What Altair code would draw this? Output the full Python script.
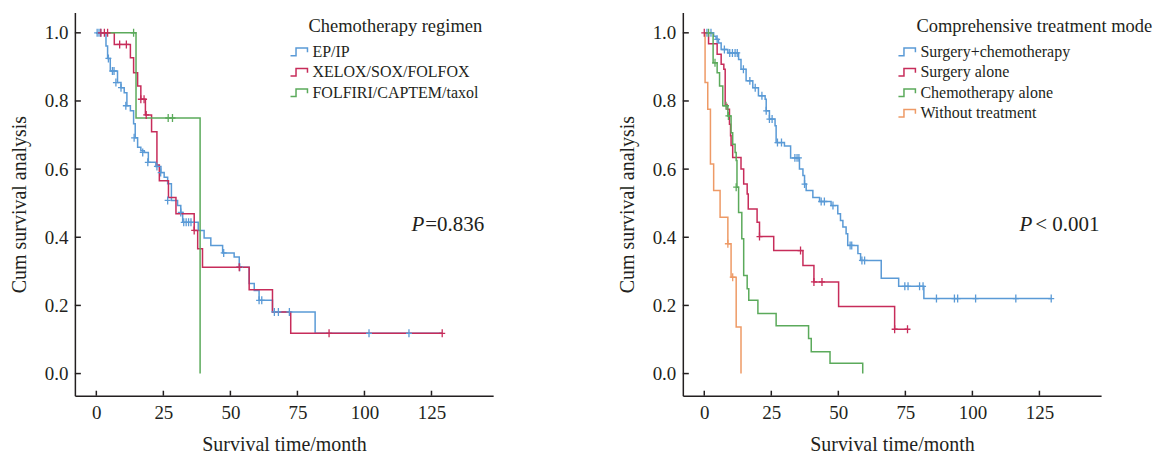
import altair as alt
import pandas as pd

FONT = "Liberation Serif"
INK = "#231f20"

# ---------------- Left panel: Chemotherapy regimen ----------------
left_series = ["EP/IP", "XELOX/SOX/FOLFOX", "FOLFIRI/CAPTEM/taxol"]
left_colors = ["#5A9AD6", "#C72C5A", "#5BAA5B"]

epip_t = [0, 3.6, 4.2, 5.2, 7.9, 9.2, 10.4, 11.4, 12.7, 13.9, 14.5, 15.4, 16.6, 17.9, 19.4,
          22.2, 24.1, 25.3, 26.6, 28.0, 30.3, 31.5, 32.2, 38.0, 40.2, 42.7, 47.1, 51.4, 53.3,
          57.0, 58.9, 60.7, 65.7, 81.6, 129.0]
epip_s = [1.0, 0.961, 0.925, 0.888, 0.854, 0.839, 0.824, 0.786, 0.771, 0.733, 0.692, 0.664, 0.654,
          0.649, 0.620, 0.608, 0.590, 0.576, 0.557, 0.508, 0.493, 0.473, 0.444, 0.420, 0.398, 0.376,
          0.354, 0.342, 0.312, 0.264, 0.244, 0.215, 0.181, 0.118, 0.118]
epip_ct = [0.3, 1.0, 1.6, 4.5, 6.0, 6.6, 7.3, 9.2, 11.0, 14.1, 17.3, 19.2, 22.6, 24.0, 26.6, 31.5,
           32.6, 33.5, 34.4, 35.3, 47.5, 53.5, 60.7, 61.7, 66.4, 67.9, 72.0, 101.7, 116.6]
epip_cs = [1.0, 1.0, 1.0, 0.925, 0.888, 0.888, 0.854, 0.839, 0.786, 0.692, 0.649, 0.620, 0.608,
           0.590, 0.508, 0.473, 0.444, 0.444, 0.444, 0.444, 0.354, 0.312, 0.215, 0.215, 0.181,
           0.181, 0.181, 0.118, 0.118]

xelox_t = [0, 6.7, 12.7, 13.9, 15.4, 16.6, 18.3, 20.6, 22.6, 23.5, 26.9, 29.7, 36.5, 37.8, 39.6,
           57.0, 65.7, 72.5, 129.0]
xelox_s = [1.0, 0.966, 0.927, 0.883, 0.844, 0.805, 0.759, 0.710, 0.612, 0.566, 0.517, 0.469, 0.420,
           0.366, 0.312, 0.246, 0.181, 0.118, 0.118]
xelox_ct = [1.7, 3.0, 4.2, 8.7, 11.2, 16.6, 17.8, 18.6, 36.5, 53.3, 86.8, 129.0]
xelox_cs = [1.0, 1.0, 1.0, 0.966, 0.966, 0.805, 0.805, 0.759, 0.420, 0.312, 0.118, 0.118]

folfiri_t = [0, 14.8, 38.7]
folfiri_s = [1.0, 0.75, 0.0]
folfiri_ct = [13.9, 26.8, 28.4]
folfiri_cs = [1.0, 0.75, 0.75]

# ---------------- Right panel: Comprehensive treatment mode ----------------
right_series = ["Surgery+chemotherapy", "Surgery alone", "Chemotherapy alone", "Without treatment"]
right_colors = ["#5A9AD6", "#C72C5A", "#5BAA5B", "#EE9A66"]

sc_t = [0, 3.5, 4.4, 5.3, 6.3, 8.8, 12.8, 13.7, 15.6, 18.1, 20.2, 22.7, 23.1, 24.3, 26.4, 26.8,
        29.9, 32.2, 35.5, 36.8, 37.4, 38.0, 40.5, 43.0, 47.3, 49.8, 50.8, 51.7, 52.9, 53.5, 57.3,
        58.3, 66.0, 72.5, 81.9, 129.4]
sc_s = [1.0, 0.99, 0.981, 0.97, 0.951, 0.941, 0.922, 0.893, 0.859, 0.839, 0.815, 0.805, 0.771,
        0.747, 0.727, 0.678, 0.668, 0.633, 0.600, 0.581, 0.556, 0.537, 0.517, 0.505, 0.493, 0.469,
        0.449, 0.430, 0.410, 0.376, 0.352, 0.332, 0.280, 0.256, 0.220, 0.220]
sc_ct = [1.0, 2.5, 4.8, 7.5, 9.5, 10.5, 11.5, 12.3, 14.6, 17.0, 19.0, 21.5, 23.1, 24.3, 25.3, 27.3,
         28.8, 33.8, 34.6, 35.3, 37.4, 43.6, 44.8, 48.0, 54.4, 55.0, 58.8, 59.8, 74.8, 76.0, 80.3,
         81.6, 86.6, 93.3, 94.5, 101.2, 116.2, 129.4]
sc_cs = [1.0, 1.0, 0.981, 0.951, 0.941, 0.941, 0.941, 0.941, 0.893, 0.859, 0.839, 0.815, 0.771,
         0.747, 0.747, 0.678, 0.678, 0.633, 0.633, 0.633, 0.556, 0.505, 0.505, 0.493, 0.376, 0.376,
         0.332, 0.332, 0.256, 0.256, 0.256, 0.256, 0.220, 0.220, 0.220, 0.220, 0.220, 0.220]

sa_t = [0, 1.6, 4.8, 6.3, 7.3, 7.8, 8.5, 9.4, 9.8, 10.0, 10.6, 13.7, 14.7, 16.0, 16.4, 19.7, 20.6,
        25.9, 36.8, 40.9, 50.1, 71.0, 75.8]
sa_s = [1.0, 0.968, 0.937, 0.908, 0.893, 0.790, 0.776, 0.732, 0.698, 0.669, 0.634, 0.600, 0.556,
        0.527, 0.483, 0.444, 0.402, 0.361, 0.317, 0.269, 0.197, 0.130, 0.130]
sa_ct = [0.0, 20.6, 35.9, 40.9, 43.9, 71.0, 75.8]
sa_cs = [1.0, 0.402, 0.361, 0.269, 0.269, 0.130, 0.130]

ca_t = [0, 3.3, 4.8, 5.7, 6.9, 8.8, 10.0, 10.6, 11.5, 11.9, 12.2, 12.8, 14.0, 14.7, 16.0, 16.6,
        20.0, 26.8, 38.9, 39.9, 46.9, 59.1]
ca_s = [1.0, 0.912, 0.883, 0.844, 0.786, 0.756, 0.707, 0.673, 0.649, 0.625, 0.547, 0.473, 0.396,
        0.288, 0.249, 0.215, 0.176, 0.140, 0.103, 0.064, 0.030, 0.0]
ca_ct = [1.6, 4.0, 8.1, 9.0, 11.9]
ca_cs = [1.0, 0.912, 0.786, 0.756, 0.547]

wt_t = [0, 0.3, 1.3, 2.3, 3.5, 5.9, 8.8, 10.0, 11.9, 13.7]
wt_s = [1.0, 0.854, 0.776, 0.615, 0.537, 0.459, 0.381, 0.283, 0.137, 0.0]
wt_ct = [8.8, 10.6]
wt_cs = [0.381, 0.283]

x_ticks = [0, 25, 50, 75, 100, 125]
y_ticks = [0.0, 0.2, 0.4, 0.6, 0.8, 1.0]

W, H = 419, 384
STEP_ICON = "M-1,0.45H-0.35V-0.45H1V0.05"
CROSS = "M0,-1V1M-0.75,0H0.75"


def frame(names, ts, ss):
    rows = []
    for n, t, s in zip(names, ts, ss):
        for a, b in zip(t, s):
            rows.append({"series": n, "t": a, "s": b})
    return pd.DataFrame(rows)


def panel(series, colors, lines, cens, legend_title, p_text, p_rest):
    xs = alt.Scale(domain=[-8, 148], nice=False, zero=False)
    ys = alt.Scale(domain=[-0.065, 1.06], nice=False, zero=False)
    cs = alt.Scale(domain=series, range=colors)
    x_axis = alt.Axis(values=x_ticks, title="Survival time/month", ticks=False, tickSize=0,
                      labelPadding=8, titleY=55, titleBaseline="alphabetic")
    y_axis = alt.Axis(values=y_ticks, format=".1f", title="Cum survival analysis", ticks=False,
                      tickSize=0, labelPadding=7, titleX=-55, titleY=H / 2,
                      titleAngle=270, titleAlign="center", titleBaseline="middle")
    legend = alt.Legend(orient="none", legendX=215, legendY=30, title=None,
                        symbolType=STEP_ICON, symbolSize=289, symbolStrokeWidth=1.5,
                        symbolFillColor="transparent", labelFont=FONT, labelFontSize=16,
                        labelColor=INK, rowPadding=2.5, padding=0, labelOffset=4,
                        labelLimit=0)
    line = alt.Chart(lines).mark_line(interpolate="step-after", strokeWidth=1.5).encode(
        x=alt.X("t:Q", scale=xs, axis=x_axis),
        y=alt.Y("s:Q", scale=ys, axis=y_axis),
        color=alt.Color("series:N", scale=cs, sort=series, legend=legend),
    )
    marks = alt.Chart(cens).mark_point(shape=CROSS, filled=False, size=64, strokeWidth=1.3,
                                       opacity=1).encode(
        x=alt.X("t:Q", scale=xs),
        y=alt.Y("s:Q", scale=ys),
        color=alt.Color("series:N", scale=cs, sort=series, legend=None),
    )
    xt = alt.Chart(pd.DataFrame({"t": x_ticks})).mark_rule(color=INK, strokeWidth=1.5).encode(
        x=alt.X("t:Q", scale=xs), y=alt.value(H), y2=alt.value(H - 5))
    yt = alt.Chart(pd.DataFrame({"s": y_ticks})).mark_rule(color=INK, strokeWidth=1.5).encode(
        y=alt.Y("s:Q", scale=ys), x=alt.value(0), x2=alt.value(6))
    lt = alt.Chart(pd.DataFrame({"label": [legend_title]})).mark_text(
        font=FONT, fontSize=18.5, color=INK, align="left", baseline="middle").encode(
        text="label:N", x=alt.value(234), y=alt.value(14))
    pp = alt.Chart(pd.DataFrame({"label": ["P"]})).mark_text(
        font=FONT, fontSize=21, fontStyle="italic", color=INK, align="right",
        baseline="middle").encode(text="label:N", x=alt.value(350), y=alt.value(213))
    pr = alt.Chart(pd.DataFrame({"label": [p_rest]})).mark_text(
        font=FONT, fontSize=21, color=INK, align="left", baseline="middle").encode(
        text="label:N", x=alt.value(p_text), y=alt.value(213))
    return alt.layer(line, marks, xt, yt, lt, pp, pr).properties(width=W, height=H)


left_lines = frame(left_series, [epip_t, xelox_t, folfiri_t], [epip_s, xelox_s, folfiri_s])
left_cens = frame(left_series, [epip_ct, xelox_ct, folfiri_ct], [epip_cs, xelox_cs, folfiri_cs])
right_lines = frame(right_series, [sc_t, sa_t, ca_t, wt_t], [sc_s, sa_s, ca_s, wt_s])
right_cens = frame(right_series, [sc_ct, sa_ct, ca_ct, wt_ct], [sc_cs, sa_cs, ca_cs, wt_cs])

left = panel(left_series, left_colors, left_lines, left_cens, "Chemotherapy regimen", 351, "=0.836")
right = panel(right_series, right_colors, right_lines, right_cens, "Comprehensive treatment mode",
              353, "< 0.001")

chart = alt.hconcat(left, right, spacing=125).resolve_scale(color="independent").properties(
    padding={"left": 2, "top": 4, "right": 0, "bottom": 0}, background="white"
).configure_view(stroke=None).configure_axis(
    labelFont=FONT, titleFont=FONT, labelFontSize=19, titleFontSize=20, labelColor=INK,
    titleColor=INK, titleFontWeight="normal", grid=False, domainColor=INK, domainWidth=1.5,
)

chart.save("out.html", embed_options={"renderer": "svg", "actions": False})
